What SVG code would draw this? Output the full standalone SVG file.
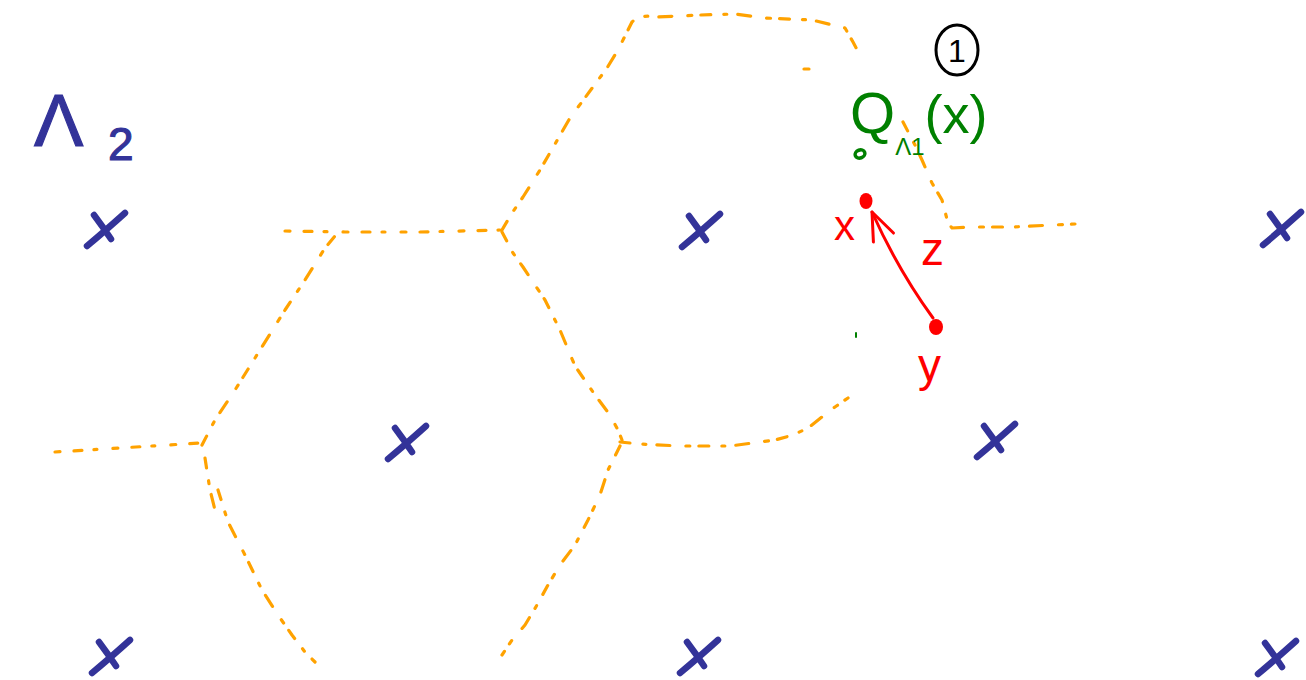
<svg xmlns="http://www.w3.org/2000/svg" width="1306" height="680" viewBox="0 0 1306 680">
<style>
.site{stroke:#333399;stroke-width:6.5;fill:none;stroke-linecap:round;stroke-linejoin:round}
.vor{stroke:#ffa200;stroke-width:3.2;fill:none;stroke-linecap:round;stroke-linejoin:round;stroke-dasharray:10 13 3 11 13 16 4 9}
.vor2{stroke:#ffa200;stroke-width:3.2;fill:none;stroke-linecap:round;stroke-dasharray:5 14 8 12 3 16}
.blue{fill:#333399;stroke:#333399;stroke-width:1.2;font-family:"Liberation Sans",Arial,sans-serif}
.green{fill:#008000;font-family:"Liberation Sans",Arial,sans-serif}
.red{fill:#ff0000;font-family:"Liberation Sans",Arial,sans-serif}
.blk{fill:#000000;font-family:"Liberation Sans",Arial,sans-serif}
.redline{stroke:#ff0000;stroke-width:3;fill:none;stroke-linecap:round;stroke-linejoin:round}
</style>
<defs>
<path id="cross" d="M-18,17 Q0,2 20,-16 M-11,-14 Q-2,-2 6,10"/>
<marker id="openArrow" viewBox="0 0 32 32" refX="30" refY="16" markerWidth="32" markerHeight="32" markerUnits="userSpaceOnUse" orient="auto">
<path d="M2,5 L30,16 L2,27" fill="none" stroke="#ff0000" stroke-width="3" stroke-linecap="round" stroke-linejoin="round"/>
</marker>
</defs>
<rect width="1306" height="680" fill="#ffffff"/>

<g id="voronoi">
<path class="vor" d="M502,230 L512,213 L523,197 L540,170 L570,118 L607,68 L618,50 L632,22 Q640,14 657,17 L700,15 L735,14 L765,18 L812,20 L845,28 L853,42 L860,55"/>
<path class="vor2" d="M804,69 L814,69"/>
<path class="vor" d="M903,122 L915,145 L922,160 L932,183 L942,200 L948,223 L952,228 L970,227 L1013,227 L1053,225 L1075,224"/>
<path class="vor" d="M502,232 L513,253 L523,267 L545,300 L560,330 L575,366 L595,395 L610,415 L618,430 L622,440"/>
<path class="vor" d="M620,442 L640,444 L680,446 L730,446 L775,440 L793,435 L808,428 L822,417 L835,407 L848,398"/>
<path class="vor" d="M620,446 L608,470 L600,495 L588,520 L575,545 L560,565 L548,585 L537,605 L525,625 L512,640 L502,655"/>
<path class="vor2" d="M285,231 L345,232 L420,232 L500,230"/>
<path class="vor" d="M202,445 L215,420 L235,390 L260,350 L285,310 L305,280 L325,248 L340,230"/>
<path class="vor2" d="M55,452 L120,448 L200,443"/>
<path class="vor" d="M205,458 L210,490 L218,522"/>
<path class="vor" d="M218,490 L228,522 L245,555 L262,590 L278,615 L292,635 L305,652 L315,662"/>
</g>

<g id="sites">
<use href="#cross" class="site" x="105" y="229"/>
<use href="#cross" class="site" x="700" y="230"/>
<use href="#cross" class="site" x="1281" y="228"/>
<use href="#cross" class="site" x="406" y="442"/>
<use href="#cross" class="site" x="995" y="440"/>
<use href="#cross" class="site" x="110" y="656"/>
<use href="#cross" class="site" x="698" y="656"/>
<use href="#cross" class="site" x="1276" y="657"/>
</g>

<g id="lattice-label">
<text class="blue" x="34" y="146" font-size="74">Λ<tspan x="108" y="160" font-size="46">2</tspan></text>
</g>

<g id="quantizer-label">
<text class="green" x="850" y="133" font-size="58">Q<tspan font-size="24" dy="22">Λ1</tspan><tspan font-size="54" dy="-22">(x)</tspan></text>
<ellipse cx="860" cy="154" rx="5" ry="4" fill="none" stroke="#008000" stroke-width="3.5" transform="rotate(-20 860 154)"/>
<path d="M856,333 L856,337" stroke="#008000" stroke-width="2" stroke-linecap="round"/>
</g>

<g id="step-marker">
<ellipse cx="957" cy="50" rx="21" ry="25" fill="none" stroke="#000000" stroke-width="3"/>
<text class="blk" x="957" y="62" font-size="32" text-anchor="middle">1</text>
</g>

<g id="point-x">
<ellipse cx="866" cy="201" rx="6.5" ry="8" fill="#ff0000"/>
<text class="red" x="834" y="240" font-size="42">x</text>
</g>

<g id="point-y">
<ellipse cx="936" cy="327" rx="7" ry="8" fill="#ff0000"/>
<text class="red" x="918" y="381" font-size="46">y</text>
</g>

<g id="connectors">
<path class="redline" d="M933,318 Q898,270 872,212" marker-end="url(#openArrow)"/>
<text class="red" x="921" y="265" font-size="46">z</text>
</g>
</svg>
